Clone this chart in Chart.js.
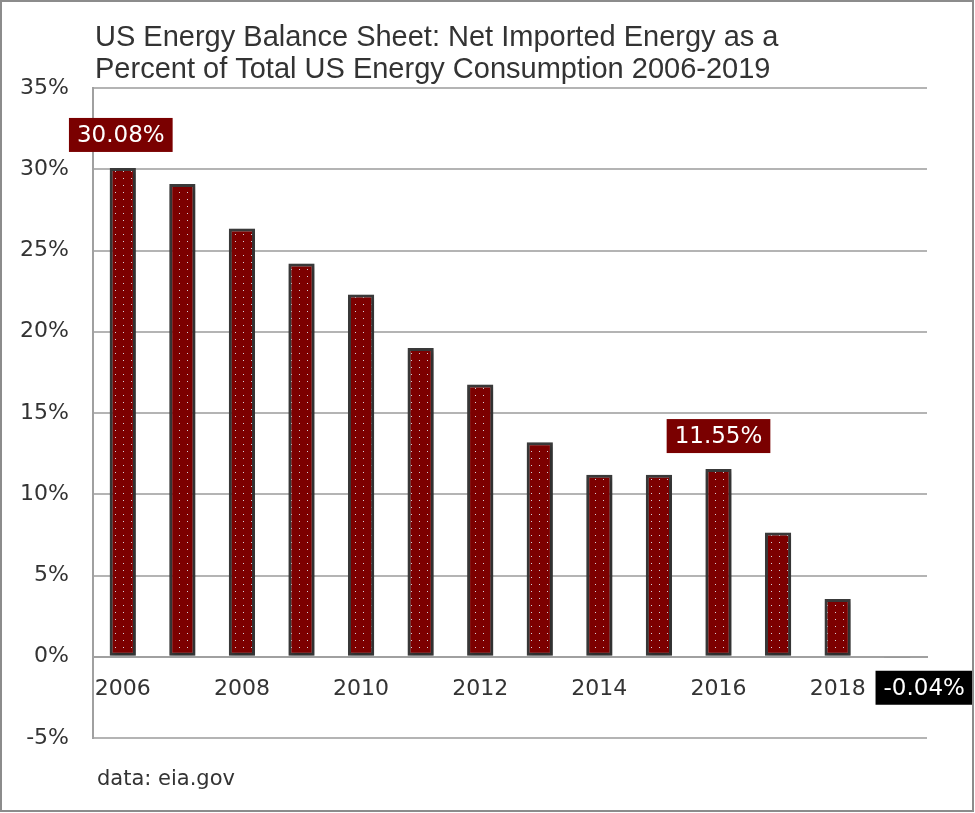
<!DOCTYPE html>
<html>
<head>
<meta charset="utf-8">
<title>US Energy Balance Sheet</title>
<script src="https://cdn.jsdelivr.net/npm/chart.js@4.4.1/dist/chart.umd.min.js"></script>
<style>
  html, body { margin: 0; padding: 0; background: #fff; }
  #box { width: 975px; height: 813px; position: relative; }
</style>
</head>
<body>
<div id="box"><canvas id="graphique-import" width="975" height="813"></canvas></div>
<script>
// donnees
const annees = ['2006', '2007', '2008', '2009', '2010', '2011', '2012',
                '2013', '2014', '2015', '2016', '2017', '2018', '2019'];
const importNetPct = [30.08, 29.1, 26.35, 24.2, 22.3, 19.0, 16.75,
                      13.2, 11.2, 11.2, 11.55, 7.65, 3.55, -0.04];
const anneesAffichees = ['2006', '2008', '2010', '2012', '2014', '2016', '2018'];
const graduationsY = [-5, 0, 5, 10, 15, 20, 25, 30, 35];
const anneesEtiquetees = ['2006', '2016', '2019'];
const titre = ['US Energy Balance Sheet: Net Imported Energy as a',
               'Percent of Total US Energy Consumption 2006-2019'];
const source = 'data: eia.gov';

const police = '"DejaVu Sans", "Noto Sans", sans-serif';
const policeTitre = '"Liberation Sans", sans-serif';

// motif rouge a petits points
function creerMotif() {
    const c = document.createElement('canvas');
    c.width = 8;
    c.height = 7;
    const g = c.getContext('2d');
    g.fillStyle = '#7c0000';
    g.fillRect(0, 0, 8, 7);
    g.fillStyle = '#d4d2da';
    g.fillRect(3, 3, 1, 1);
    return g.createPattern(c, 'repeat');
}

// ombre sous les barres
const ombre = {
    id: 'ombre',
    beforeDatasetsDraw(chart) {
        const ctx = chart.ctx;
        ctx.save();
        ctx.shadowColor = 'rgba(0,0,0,0.35)';
        ctx.shadowBlur = 5;
        ctx.shadowOffsetX = 1;
        ctx.shadowOffsetY = 2;
    },
    afterDatasetsDraw(chart) {
        chart.ctx.restore();
    }
};

// titre, source, etiquettes et cadre
const habillage = {
    id: 'habillage',
    afterDraw(chart) {
        const ctx = chart.ctx;
        const x = chart.scales.x;
        const y = chart.scales.y;
        ctx.save();

        ctx.fillStyle = '#333';
        ctx.font = '29px ' + policeTitre;
        ctx.textAlign = 'left';
        ctx.textBaseline = 'alphabetic';
        ctx.fillText(titre[0], 95, 46);
        ctx.fillText(titre[1], 95, 78);

        ctx.font = '21px ' + police;
        ctx.fillText(source, 97, 785);

        ctx.font = '23px ' + police;
        ctx.textAlign = 'center';
        ctx.textBaseline = 'middle';
        for (let i = 0; i < anneesEtiquetees.length; i++) {
            const idx = annees.indexOf(anneesEtiquetees[i]);
            const v = importNetPct[idx];
            const txt = v.toFixed(2) + '%';
            const w = ctx.measureText(txt).width + 16;
            const h = 34;
            let cx = x.getPixelForValue(idx);
            let cy;
            if (v < 0) {
                cx += 27;
                cy = y.getPixelForValue(0) + 31;
                ctx.fillStyle = '#000';
            } else {
                cx -= idx === 0 ? 2 : 0;
                cy = y.getPixelForValue(v) - 33;
                ctx.fillStyle = '#7a0000';
            }
            ctx.fillRect(cx - w / 2, cy - h / 2, w, h);
            ctx.fillStyle = '#fff';
            ctx.fillText(txt, cx, cy + 1);
        }

        ctx.strokeStyle = '#8c8c8c';
        ctx.lineWidth = 2;
        ctx.strokeRect(1, 1, 972, 810);
        ctx.restore();
    }
};

const ctx = document.querySelector('#graphique-import');

const data = {
    labels: annees,
    datasets: [{
        label: 'Net imported energy',
        data: importNetPct,
        backgroundColor: creerMotif(),
        borderColor: '#3a3a3a',
        borderWidth: 3,
        borderSkipped: false,
        barPercentage: 0.44,
        categoryPercentage: 1
    }]
};

const config = {
    type: 'bar',
    data: data,
    options: {
        responsive: false,
        animation: false,
        devicePixelRatio: 1,
        layout: { padding: { top: 88, right: 48, bottom: 75, left: 0 } },
        plugins: {
            legend: { display: false },
            tooltip: { enabled: false }
        },
        scales: {
            x: {
                position: { y: 0 },
                afterFit(scale) { scale.height = 0; },
                grid: { display: false },
                border: { display: true, color: '#a0a0a0', width: 2 },
                ticks: {
                    autoSkip: false,
                    maxRotation: 0,
                    padding: 11,
                    color: '#333',
                    font: { family: police, size: 22 },
                    callback(val, i) {
                        return anneesAffichees.includes(annees[i]) ? annees[i] : '';
                    }
                }
            },
            y: {
                min: -5,
                max: 35,
                afterFit(scale) { scale.width = 93; },
                afterBuildTicks(scale) {
                    scale.ticks = graduationsY.map(v => ({ value: v }));
                },
                grid: { color: '#b4b4b4', lineWidth: 2, drawTicks: false },
                border: { display: true, color: '#a0a0a0', width: 2 },
                ticks: {
                    padding: 24,
                    color: '#333',
                    font: { family: police, size: 22 },
                    callback: v => v + '%'
                }
            }
        }
    },
    plugins: [ombre, habillage]
};

new Chart(ctx, config);
</script>
</body>
</html>
